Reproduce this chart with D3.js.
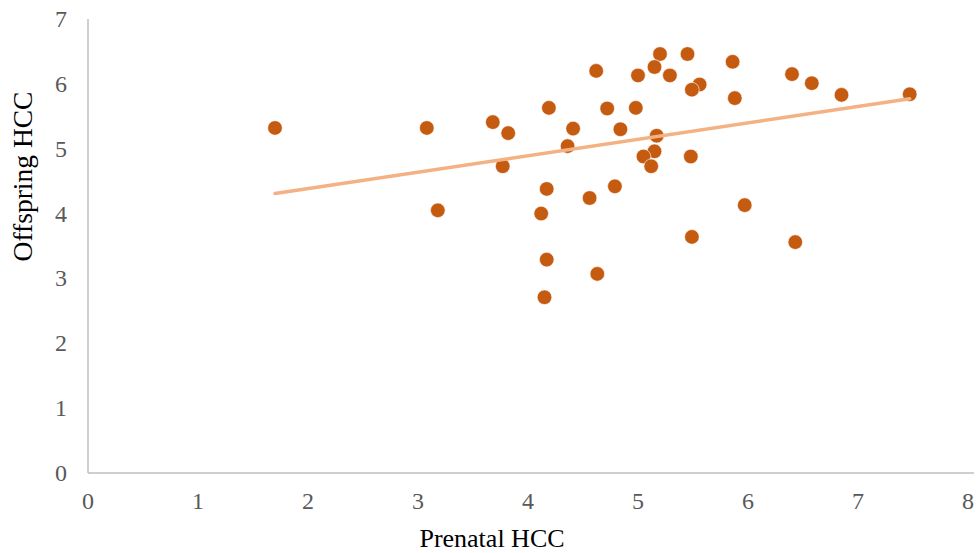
<!DOCTYPE html>
<html>
<head>
<meta charset="utf-8">
<script src="https://cdn.jsdelivr.net/npm/d3@7"></script>
<style>
  body { margin: 0; background: #fff; }
  svg { display: block; }
</style>
</head>
<body>
<div id="main"></div>
<script>
// prenatal HCC (x) and offspring HCC (y)
const prenatal = [1.70, 3.08, 3.68, 3.82, 4.19, 4.41, 4.36, 3.77, 4.17, 3.18, 4.12, 4.17, 4.15,
                  5.20, 5.45, 4.62, 5.15, 5.00, 5.29, 5.86, 6.40, 6.58, 5.56, 5.49, 6.85, 7.47,
                  5.88, 4.72, 4.98, 4.84, 5.17, 5.15, 5.05, 5.12, 5.48, 4.79, 4.56, 5.97, 5.49,
                  6.43, 4.63];
const offspring = [5.32, 5.32, 5.41, 5.24, 5.63, 5.31, 5.04, 4.73, 4.38, 4.05, 4.00, 3.29, 2.71,
                   6.46, 6.46, 6.20, 6.26, 6.13, 6.13, 6.34, 6.15, 6.01, 5.99, 5.91, 5.83, 5.84,
                   5.78, 5.62, 5.63, 5.30, 5.20, 4.96, 4.88, 4.73, 4.88, 4.42, 4.24, 4.13, 3.64,
                   3.56, 3.07];
const xTicks = [0, 1, 2, 3, 4, 5, 6, 7, 8];
const yTicks = [0, 1, 2, 3, 4, 5, 6, 7];

const ctx = {
    width: 980,
    height: 553,
    left: 88, right: 968, top: 19, bottom: 473
};

const data = prenatal.map((x, i) => ({x: x, y: offspring[i]}));

const svg = d3.select("#main").append("svg")
    .attr("width", ctx.width)
    .attr("height", ctx.height);

const x = d3.scaleLinear().domain([0, 8]).range([ctx.left, ctx.right]);
const y = d3.scaleLinear().domain([0, 7]).range([ctx.bottom, ctx.top]);

// axes lines
const axisColor = "#bfbfbf";
svg.append("line")
    .attr("x1", x(0)).attr("x2", x(0))
    .attr("y1", y(7)).attr("y2", y(0))
    .attr("stroke", axisColor).attr("stroke-width", 1.5);
svg.append("line")
    .attr("x1", x(0)).attr("x2", x(8) + 6)
    .attr("y1", y(0)).attr("y2", y(0))
    .attr("stroke", axisColor).attr("stroke-width", 1.5);

// tick labels
const tickFont = "'Liberation Serif', 'Times New Roman', serif";
svg.selectAll(".ytick")
    .data(yTicks)
    .enter()
    .append("text")
    .attr("class", "ytick")
    .attr("x", 67)
    .attr("y", d => y(d) + 8)
    .attr("text-anchor", "end")
    .style("font-family", tickFont)
    .style("font-size", "24px")
    .style("fill", "#595959")
    .text(d => d);

svg.selectAll(".xtick")
    .data(xTicks)
    .enter()
    .append("text")
    .attr("class", "xtick")
    .attr("x", d => x(d))
    .attr("y", 509)
    .attr("text-anchor", "middle")
    .style("font-family", tickFont)
    .style("font-size", "24px")
    .style("fill", "#595959")
    .text(d => d);

// axis titles
svg.append("text")
    .attr("x", 492)
    .attr("y", 547)
    .attr("text-anchor", "middle")
    .style("font-family", tickFont)
    .style("font-size", "26px")
    .style("fill", "#000")
    .text("Prenatal HCC");

svg.append("text")
    .attr("transform", "translate(32,176.5) rotate(-90)")
    .attr("text-anchor", "middle")
    .style("font-family", tickFont)
    .style("font-size", "27.5px")
    .style("fill", "#000")
    .text("Offspring HCC");

// points
svg.selectAll(".dot")
    .data(data)
    .enter()
    .append("circle")
    .attr("class", "dot")
    .attr("cx", d => x(d.x))
    .attr("cy", d => y(d.y))
    .attr("r", 7.3)
    .style("fill", "#c55a11")
    .style("stroke", "#fff")
    .style("stroke-width", 0.6);

// linear trendline (least squares over the points)
const mx = d3.mean(prenatal), my = d3.mean(offspring);
const slope = d3.sum(data, d => (d.x - mx) * (d.y - my)) / d3.sum(data, d => (d.x - mx) * (d.x - mx));
const icpt = my - slope * mx;
const xr = d3.extent(prenatal);
svg.append("line")
    .attr("x1", x(xr[0])).attr("y1", y(icpt + slope * xr[0]))
    .attr("x2", x(xr[1])).attr("y2", y(icpt + slope * xr[1]))
    .attr("stroke", "#f4b183")
    .attr("stroke-width", 3.5)
    .attr("stroke-linecap", "round");
</script>
</body>
</html>
